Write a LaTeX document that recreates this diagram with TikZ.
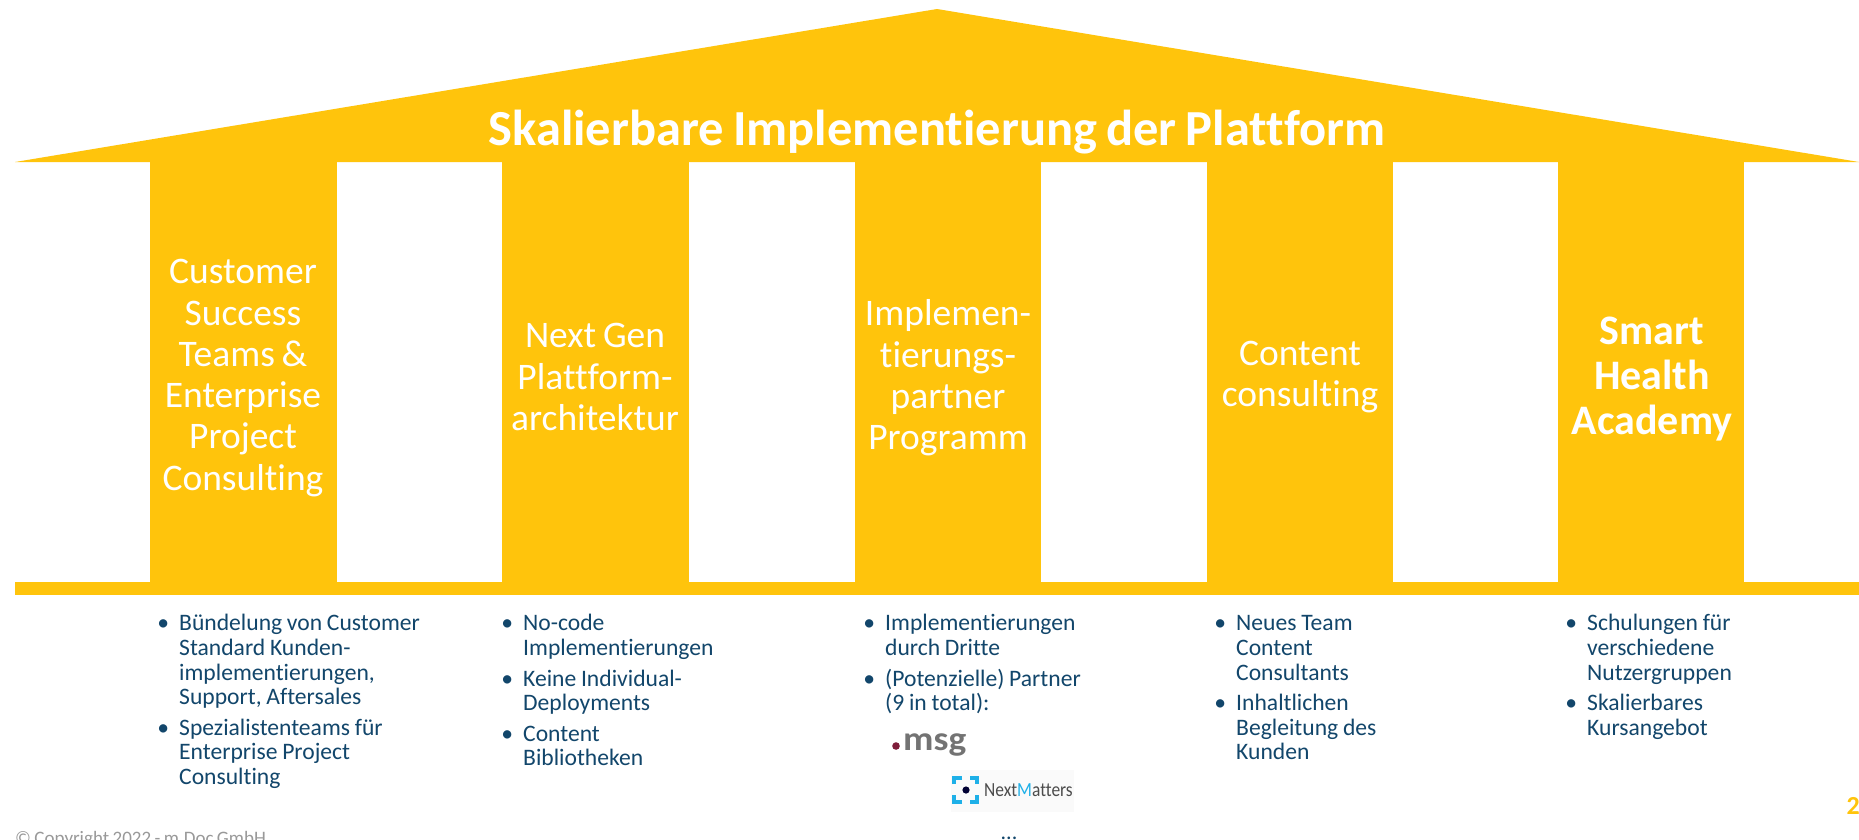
\documentclass[tikz,border=0pt]{standalone}
\usepackage{fontspec}
\setmainfont[Ligatures=NoCommon,WordSpace=0.8]{Carlito}
\usepackage{enumitem}
\newcommand{\tightspace}{\spaceskip=.2em\relax}
\setlist[itemize]{leftmargin=17pt,labelsep=10pt,topsep=0pt,partopsep=0pt,itemsep=6pt,parsep=0pt,before=\tightspace}
\definecolor{gold}{HTML}{FFC40C}
\definecolor{bluetext}{HTML}{12466B}
\definecolor{msgred}{HTML}{7F1D3A}
\definecolor{nmblue}{HTML}{1EB0E8}
\tikzset{
  pillar/.style={fill=gold,draw=none},
  pillartext/.style={text=white,align=center,font=\fontsize{37.5}{41.3}\selectfont},
  bullets/.style={anchor=north west,inner sep=0pt,text=bluetext,text width=#1,align=left,font=\fontsize{23.6}{24.6}\selectfont},
  nmbracket/.style={draw=nmblue,line width=3.5pt}
}
\begin{document}
\begin{tikzpicture}[x=1pt,y=-1pt]
\clip (0,0) rectangle (1859,839);
\fill[white] (0,0) rectangle (1859,839);
% roof and base
\fill[pillar] (15,162) -- (937,9) -- (1859,162) -- cycle;
\fill[pillar] (15,582) rectangle (1859,595);
\foreach \x/\w in {150/187,502/187,855/186,1207/186,1558/186}{
  \fill[pillar] (\x,160) rectangle (\x+\w,584);
}
\node[text=white,font=\fontsize{50.5}{54}\selectfont\bfseries] (title) at (937,132) {Skalierbare Implementierung der Plattform};
% pillar labels
\node[pillartext] (customer) at (243,378) {Customer\\Success\\Teams \&\\Enterprise\\Project\\Consulting};
\node[pillartext] (nextgen) at (595,377) {Next Gen\\Plattform-\\architektur};
\node[pillartext] (partner) at (948,378) {Implemen-\\tierungs-\\partner\\Programm};
\node[pillartext] (content) at (1300,377) {Content\\consulting};
\node[pillartext,font=\fontsize{42}{45}\selectfont\bfseries] (academy) at (1652,379) {Smart\\Health\\Academy};
% bullet lists
\node[bullets=262pt] (listA) at (162,606) {\begin{itemize}
\item Bündelung von Customer\\Standard Kunden-\\implementierungen,\\Support, Aftersales
\item Spezialistenteams für\\Enterprise Project\\Consulting
\end{itemize}};
\node[bullets=210pt] (listB) at (506,606) {\begin{itemize}
\item No-code\\Implementierungen
\item Keine Individual-\\Deployments
\item Content\\Bibliotheken
\end{itemize}};
\node[bullets=230pt] (listC) at (865,606) {\begin{itemize}[leftmargin=20pt]
\item Implementierungen\\durch Dritte
\item (Potenzielle) Partner\\(9 in total):
\end{itemize}};
\node[bullets=190pt] (listD) at (1219,606) {\begin{itemize}
\item Neues Team\\Content\\Consultants
\item Inhaltlichen\\Begleitung des\\Kunden
\end{itemize}};
\node[bullets=190pt] (listE) at (1570,606) {\begin{itemize}
\item Schulungen für\\verschiedene\\Nutzergruppen
\item Skalierbares\\Kursangebot
\end{itemize}};
% partner logos
\fill[msgred] (896,746) circle (3.8);
\node[anchor=base west,text=black!55,font=\fontsize{34}{34}\selectfont\bfseries,xscale=1.1,inner sep=0pt] (msg) at (903,750) {msg};
\fill[black!2] (951,770) rectangle (1074,812);
\draw[nmbracket] (954,784) -- (954,778) -- (962,778);
\draw[nmbracket] (970,778) -- (977,778) -- (977,784);
\draw[nmbracket] (977,795) -- (977,802) -- (970,802);
\draw[nmbracket] (962,802) -- (954,802) -- (954,795);
\fill[black!80!blue] (966,790) circle (3.6);
\node[anchor=west,inner sep=0pt,text=black!70,font=\fontsize{20}{22}\selectfont,xscale=.87] (nextmatters) at (984,790) {Next{\color{nmblue}M}atters};
\node[text=bluetext,font=\fontsize{22}{22}\selectfont] (dots) at (1009,838) {...};
% footer
\node[anchor=west,inner sep=0pt,text=black!40,font=\fontsize{19}{22}\selectfont] (copyright) at (15,840) {© Copyright 2022 - m.Doc GmbH};
\node[anchor=east,inner sep=0pt,text=gold,font=\fontsize{26}{26}\selectfont\bfseries] (page) at (1860,806) {2};
\end{tikzpicture}
\end{document}
